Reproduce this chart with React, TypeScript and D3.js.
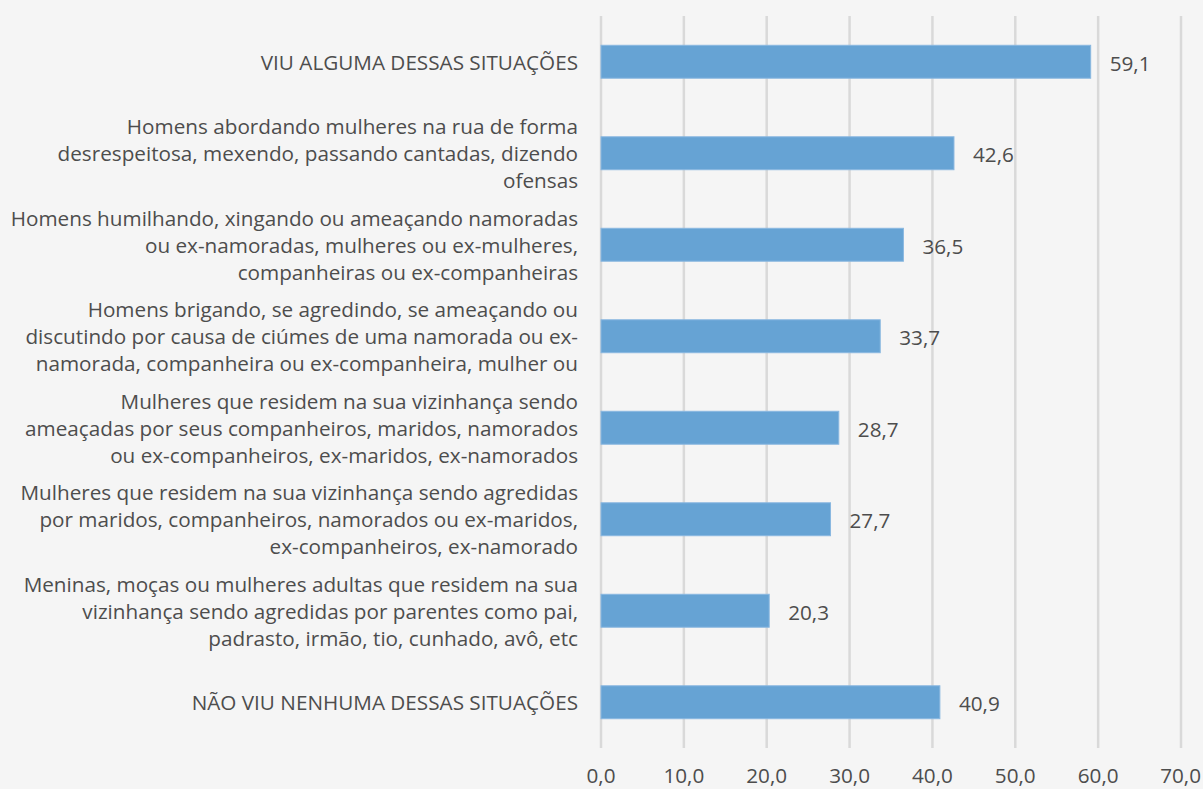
import React from "react";
import * as d3 from "d3";

const categories: string[][] = [
  ["VIU ALGUMA DESSAS SITUAÇÕES"],
  ["Homens abordando mulheres na rua de forma", "desrespeitosa, mexendo, passando cantadas, dizendo", "ofensas"],
  ["Homens humilhando, xingando ou ameaçando namoradas", "ou ex-namoradas, mulheres ou ex-mulheres,", "companheiras ou ex-companheiras"],
  ["Homens brigando, se agredindo, se ameaçando ou", "discutindo por causa de ciúmes de uma namorada ou ex-", "namorada, companheira ou ex-companheira, mulher ou"],
  ["Mulheres que residem na sua vizinhança sendo", "ameaçadas por seus companheiros, maridos, namorados", "ou ex-companheiros, ex-maridos, ex-namorados"],
  ["Mulheres que residem na sua vizinhança sendo agredidas", "por maridos, companheiros, namorados ou ex-maridos,", "ex-companheiros, ex-namorado"],
  ["Meninas, moças ou mulheres adultas que residem na sua", "vizinhança sendo agredidas por parentes como pai,", "padrasto, irmão, tio, cunhado, avô, etc"],
  ["NÃO VIU NENHUMA DESSAS SITUAÇÕES"],
];
const values: number[] = [59.1, 42.6, 36.5, 33.7, 28.7, 27.7, 20.3, 40.9];
const ticks: number[] = [0, 10, 20, 30, 40, 50, 60, 70];

const W = 1203;
const H = 789;
const FONT = "'Open Sans', sans-serif";
const TEXT = "#4d4d4d";
const FS = 20.7;

export default function App() {
  const x = d3.scaleLinear().domain([0, 70]).range([601, 1181]);
  const idx = categories.map((_, i) => String(i));
  const y = d3.scaleBand().domain(idx).range([16, 748]).paddingInner(0.64).paddingOuter(0.32);
  const fmt = (v: number) => v.toFixed(1).replace(".", ",");
  const lineH = 27;
  return (
    <svg width={W} height={H} style={{ position: "absolute", left: 0, top: 0, background: "#f5f5f5" }}>
      <rect x={0} y={0} width={W} height={H} fill="#f5f5f5" />
      {ticks.map((t) => (
        <line key={t} x1={x(t)} x2={x(t)} y1={16} y2={748} stroke="#d9d9d9" strokeWidth={2.5} />
      ))}
      {ticks.map((t) => (
        <text key={"t" + t} x={x(t)} y={783} textAnchor={t === 70 ? "end" : "middle"} dx={t === 70 ? 20 : 0} fontFamily={FONT} fontSize={FS} fill={TEXT}>
          {fmt(t)}
        </text>
      ))}
      {values.map((v, i) => {
        const yy = y(String(i))!;
        return (
          <g key={i}>
            <rect x={x(0)} y={yy} width={x(v) - x(0)} height={y.bandwidth()} fill="#66a3d4" stroke="#8ab8e0" strokeWidth={1} />
            <text x={x(v) + 19} y={yy + y.bandwidth() / 2 + 2} dy="0.35em" fontFamily={FONT} fontSize={FS} fill={TEXT}>
              {fmt(v)}
            </text>
          </g>
        );
      })}
      {categories.map((lines, i) => {
        const cy = y(String(i))! + y.bandwidth() / 2 + 1;
        const start = cy - ((lines.length - 1) * lineH) / 2;
        return (
          <text key={"c" + i} textAnchor="end" fontFamily={FONT} fontSize={FS} fill={TEXT}>
            {lines.map((l, j) => (
              <tspan key={j} x={578} y={start + j * lineH} dy="0.35em">
                {l}
              </tspan>
            ))}
          </text>
        );
      })}
    </svg>
  );
}
